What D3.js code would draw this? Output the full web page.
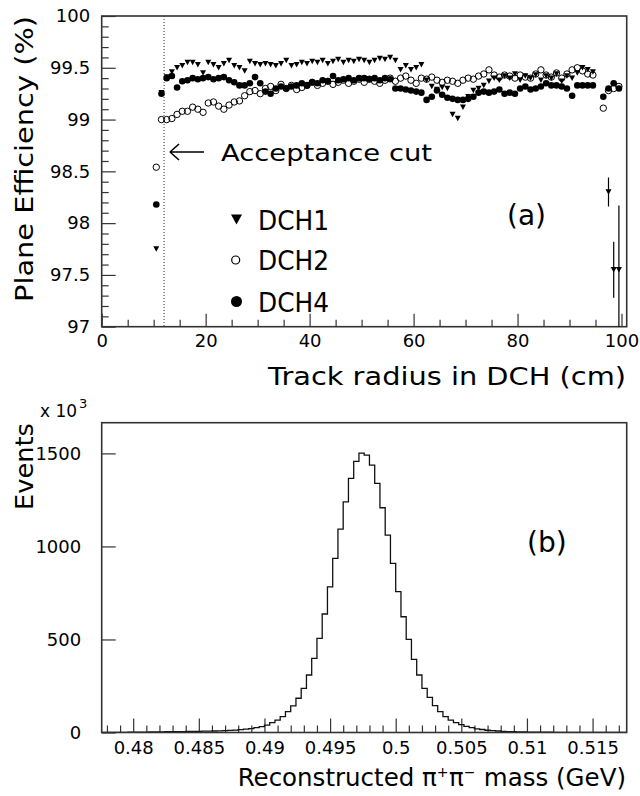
<!DOCTYPE html>
<html><head><meta charset="utf-8">
<script src="https://cdn.jsdelivr.net/npm/d3@7"></script>
<style>
body{margin:0;background:#fff}
svg{display:block}
text{font-family:"DejaVu Sans",sans-serif;fill:#000}
</style>
</head><body>
<svg id="c" width="640" height="796"></svg>
<script>
// ---------- Panel (a): plane efficiency vs track radius ----------
const radius = [10.5,11.5,12.5,13.5,14.5,15.5,16.5,17.5,18.5,19.5,
  20.5,21.5,22.5,23.5,24.5,25.5,26.5,27.5,28.5,29.5,
  30.5,31.5,32.5,33.5,34.5,35.5,36.5,37.5,38.5,39.5,
  40.5,41.5,42.5,43.5,44.5,45.5,46.5,47.5,48.5,49.5,
  50.5,51.5,52.5,53.5,54.5,55.5,56.5,57.5,58.5,59.5,
  60.5,61.5,62.5,63.5,64.5,65.5,66.5,67.5,68.5,69.5,
  70.5,71.5,72.5,73.5,74.5,75.5,76.5,77.5,78.5,79.5,
  80.5,81.5,82.5,83.5,84.5,85.5,86.5,87.5,88.5,89.5,
  90.5,91.5,92.5,93.5,94.5,95.5,96.5,97.5,98.5,99.5];
const dch1 = [97.75,99.26,99.41,99.46,99.50,99.52,99.55,99.55,99.53,99.45,
  99.55,99.53,99.50,99.54,99.57,99.52,99.50,99.47,99.56,99.54,
  99.53,99.54,99.53,99.52,99.54,99.57,99.52,99.53,99.55,99.54,
  99.56,99.55,99.57,99.54,99.56,99.58,99.55,99.57,99.56,99.58,
  99.57,99.55,99.57,99.59,99.58,99.60,99.57,99.48,99.52,99.48,
  99.50,99.53,99.38,99.32,99.29,99.31,99.30,99.05,99.01,99.12,
  99.22,99.28,99.30,99.33,99.37,99.40,99.38,99.42,99.40,99.44,
  99.38,99.42,99.40,99.43,99.38,99.42,99.40,99.44,99.37,99.42,
  99.40,99.45,99.50,99.48,99.46,null,null,98.30,97.55,97.55];
const dch1Err = [0,0,0,0,0,0,0,0,0,0, 0,0,0,0,0,0,0,0,0,0,
  0,0,0,0,0,0,0,0,0,0, 0,0,0,0,0,0,0,0,0,0,
  0,0,0,0,0,0,0,0,0,0, 0,0,0,0,0,0,0,0,0,0,
  0,0,0,0,0,0,0,0,0,0, 0,0,0,0,0,0,0,0,0,0,
  0,0,0,0,0,0,0,0.14,0.27,0.62];
const dch2 = [98.54,99.00,99.00,99.01,99.05,99.08,99.08,99.12,99.10,99.07,
  99.16,99.17,99.13,99.10,99.14,99.17,99.18,99.23,99.27,99.28,
  99.25,99.30,99.32,99.28,99.34,99.30,99.33,99.29,99.31,99.33,
  99.36,99.33,99.35,99.37,99.34,99.36,99.38,99.35,99.37,99.39,
  99.36,99.39,99.37,99.35,99.38,99.40,99.37,99.40,99.42,99.38,
  99.35,99.40,99.39,99.41,99.38,99.36,99.38,99.37,99.35,99.38,
  99.40,99.39,99.42,99.44,99.48,99.43,99.41,99.43,99.42,99.40,
  99.43,99.41,99.40,99.44,99.48,99.43,99.41,99.45,99.40,99.44,
  99.48,99.50,99.47,99.44,99.43,null,99.11,99.28,99.30,99.32];
const dch4 = [98.18,99.25,99.40,99.42,99.31,99.37,99.38,99.40,99.39,99.40,
  99.41,99.39,99.40,99.41,99.38,99.36,99.33,99.33,99.35,99.41,
  99.35,99.27,99.25,99.30,99.32,99.30,99.32,99.33,99.35,99.33,
  99.36,99.35,99.38,99.37,99.42,99.38,99.39,99.40,99.38,99.40,
  99.40,99.39,99.40,99.38,99.40,99.39,99.30,99.30,99.29,99.28,
  99.27,99.26,99.19,99.22,99.28,99.24,99.21,99.20,99.19,99.19,
  99.20,99.22,99.26,99.27,99.26,99.27,99.29,99.25,99.26,99.25,
  99.30,99.32,99.29,99.30,99.32,99.35,99.33,99.33,99.32,99.30,
  99.23,99.33,99.33,99.33,99.33,null,99.22,99.30,99.35,99.30];
const effYMajor = [97,97.5,98,98.5,99,99.5,100];
const effYLabels = ["97","97.5","98","98.5","99","99.5","100"];
const effYMinor = [97.1,97.2,97.3,97.4,97.6,97.7,97.8,97.9,98.1,98.2,98.3,98.4,98.6,98.7,98.8,98.9,99.1,99.2,99.3,99.4,99.6,99.7,99.8,99.9];
const effXMajor = [0,20,40,60,80,100];
const effXLabels = ["0","20","40","60","80","100"];
const effXMinor = [5,10,15,25,30,35,45,50,55,65,70,75,85,90,95];
const acceptanceCut = 12;
const legendNames = ["DCH1","DCH2","DCH4"];

// ---------- Panel (b): pi+pi- invariant mass ----------
const massLow = 0.4776, massBinWidth = 0.0004;
const massCounts = [1,1,1,1,1,2,2,2,2,3,
  3,3,4,4,5,5,6,6,6,7,
  7,8,9,10,11,13,15,18,21,26,
  32,40,53,67,85,112,143,184,237,309,
  398,506,637,783,936,1093,1240,1366,1457,1502,
  1491,1437,1339,1208,1061,909,757,622,501,393,
  309,237,189,144,112,85,67,53,42,33,
  26,20,16,12,10,8,6,5,4,3,
  3,2,2,2,2,2,1,1,1,1,
  1,1,1,1,1,1,1,1,1,1];
const massXMajor = [0.48,0.485,0.49,0.495,0.5,0.505,0.51,0.515];
const massXLabels = ["0.48","0.485","0.49","0.495","0.5","0.505","0.51","0.515"];
const massXMinor = [0.478,0.479,0.481,0.482,0.483,0.484,0.486,0.487,0.488,0.489,0.491,0.492,0.493,0.494,
  0.496,0.497,0.498,0.499,0.501,0.502,0.503,0.504,0.506,0.507,0.508,0.509,0.511,0.512,0.513,0.514,0.516,0.517];
const eventsYTicks = [0,500,1000,1500];
const eventsYLabels = ["0","500","1000","1500"];

const svg = d3.select("#c");
const FR = "#333";

// ===== Panel (a) =====
const xa = d3.scaleLinear().domain([0,101]).range([101.7,626.7]);
const ya = d3.scaleLinear().domain([97,100]).range([326.7,16]);
const ga = svg.append("g");
ga.append("defs").append("clipPath").attr("id","clipA")
  .append("rect").attr("x",xa(0)).attr("y",ya(100)).attr("width",xa(101)-xa(0)).attr("height",ya(97)-ya(100));

function styleAxis(g, fs){
  g.select(".domain").remove();
  g.selectAll(".tick line").attr("stroke",FR).attr("stroke-width",1.2);
  g.selectAll("text").attr("font-size",fs).attr("fill","#000").attr("font-family","DejaVu Sans");
}
ga.append("g").attr("transform",`translate(0,${ya(97)})`)
  .call(d3.axisBottom(xa).tickValues(effXMajor).tickFormat((d,i)=>effXLabels[i]).tickSizeInner(-13).tickSizeOuter(0).tickPadding(8))
  .call(g=>styleAxis(g,18));
ga.append("g").attr("transform",`translate(0,${ya(97)})`)
  .call(d3.axisBottom(xa).tickValues(effXMinor).tickFormat("").tickSizeInner(-7).tickSizeOuter(0))
  .call(g=>styleAxis(g,18));
ga.append("g").attr("transform",`translate(${xa(0)},0)`)
  .call(d3.axisLeft(ya).tickValues(effYMajor).tickFormat((d,i)=>effYLabels[i]).tickSizeInner(-14).tickSizeOuter(0).tickPadding(11.5))
  .call(g=>styleAxis(g,18));
ga.append("g").attr("transform",`translate(${xa(0)},0)`)
  .call(d3.axisLeft(ya).tickValues(effYMinor).tickFormat("").tickSizeInner(-7).tickSizeOuter(0))
  .call(g=>styleAxis(g,18));
ga.append("rect").attr("x",xa(0)).attr("y",ya(100)).attr("width",xa(101)-xa(0)).attr("height",ya(97)-ya(100))
  .attr("fill","none").attr("stroke",FR).attr("stroke-width",1.6);

ga.append("line").attr("x1",xa(acceptanceCut)).attr("x2",xa(acceptanceCut)).attr("y1",ya(100)).attr("y2",ya(97))
  .attr("stroke","#333").attr("stroke-width",1).attr("stroke-dasharray","1,2");

function triDown(cx,cy,w,h){
  return `M${cx-w/2},${cy-h/2}L${cx+w/2},${cy-h/2}L${cx},${cy+h/2}Z`;
}
const pts = radius.map((r,i)=>({r,i}));
const plot = ga.append("g").attr("clip-path","url(#clipA)");
plot.selectAll("line.err").data(pts.filter(d=>dch1[d.i]!=null && dch1Err[d.i]>0)).join("line")
  .attr("x1",d=>xa(d.r)).attr("x2",d=>xa(d.r))
  .attr("y1",d=>ya(dch1[d.i]+dch1Err[d.i])).attr("y2",d=>ya(dch1[d.i]-dch1Err[d.i]))
  .attr("stroke","#000").attr("stroke-width",1.2);
plot.selectAll("circle.d2").data(pts.filter(d=>dch2[d.i]!=null)).join("circle")
  .attr("cx",d=>xa(d.r)).attr("cy",d=>ya(dch2[d.i])).attr("r",3.2)
  .attr("fill","none").attr("stroke","#000").attr("stroke-width",1);
plot.selectAll("path.d1").data(pts.filter(d=>dch1[d.i]!=null)).join("path")
  .attr("d",d=>triDown(xa(d.r),ya(dch1[d.i]),6,5.5)).attr("fill","#000");
plot.selectAll("circle.d4").data(pts.filter(d=>dch4[d.i]!=null)).join("circle")
  .attr("cx",d=>xa(d.r)).attr("cy",d=>ya(dch4[d.i])).attr("r",3.3).attr("fill","#000");

ga.append("path").attr("d","M170,152H204M170,152L179,144M170,152L179,160")
  .attr("fill","none").attr("stroke","#000").attr("stroke-width",1.6);
ga.append("text").attr("x",221).attr("y",161).attr("font-size",23)
  .attr("textLength",211).attr("lengthAdjust","spacingAndGlyphs").text("Acceptance cut");

const legY = [219.5,260,301.5];
ga.append("path").attr("d",triDown(236.5,legY[0],11,10)).attr("fill","#000");
ga.append("circle").attr("cx",235.7).attr("cy",legY[1]).attr("r",4).attr("fill","none").attr("stroke","#000").attr("stroke-width",1.2);
ga.append("circle").attr("cx",236.5).attr("cy",legY[2]).attr("r",5.5).attr("fill","#000");
legendNames.forEach((n,i)=>{
  ga.append("text").attr("x",258).attr("y",legY[i]+10).attr("font-size",27)
    .attr("textLength",71).attr("lengthAdjust","spacingAndGlyphs").text(n);
});
ga.append("text").attr("x",507).attr("y",225).attr("font-size",28).text("(a)");

ga.append("text").attr("x",626).attr("y",385).attr("text-anchor","end").attr("font-size",24)
  .attr("textLength",358).attr("lengthAdjust","spacingAndGlyphs").text("Track radius in DCH (cm)");
ga.append("text").attr("transform","translate(33,16) rotate(-90)").attr("text-anchor","end").attr("font-size",24)
  .attr("textLength",286).attr("lengthAdjust","spacingAndGlyphs").text("Plane Efficiency (%)");

// ===== Panel (b) =====
const xb = d3.scaleLinear().domain([massLow, massLow+massBinWidth*massCounts.length]).range([101.7,626.7]);
const yb = d3.scaleLinear().domain([0,1665]).range([732.5,422.7]);
const gb = svg.append("g");

gb.append("g").attr("transform",`translate(0,${yb(0)})`)
  .call(d3.axisBottom(xb).tickValues(massXMajor).tickFormat((d,i)=>massXLabels[i]).tickSizeInner(-14).tickSizeOuter(0).tickPadding(9))
  .call(g=>styleAxis(g,18));
gb.append("g").attr("transform",`translate(0,${yb(0)})`)
  .call(d3.axisBottom(xb).tickValues(massXMinor).tickFormat("").tickSizeInner(-7).tickSizeOuter(0))
  .call(g=>styleAxis(g,18));
gb.append("g").attr("transform",`translate(${xb.range()[0]},0)`)
  .call(d3.axisLeft(yb).tickValues(eventsYTicks).tickFormat((d,i)=>eventsYLabels[i]).tickSizeInner(-14).tickSizeOuter(0).tickPadding(20.5))
  .call(g=>styleAxis(g,18));

const histPts = massCounts.map((c,i)=>[massLow+i*massBinWidth, c]);
histPts.push([massLow+massCounts.length*massBinWidth, massCounts[massCounts.length-1]]);
gb.append("path").datum(histPts)
  .attr("d",d3.line().x(d=>xb(d[0])).y(d=>yb(d[1])).curve(d3.curveStepAfter))
  .attr("fill","none").attr("stroke","#111").attr("stroke-width",1.3);

gb.append("rect").attr("x",101.7).attr("y",yb.range()[1]).attr("width",525).attr("height",yb.range()[0]-yb.range()[1])
  .attr("fill","none").attr("stroke",FR).attr("stroke-width",1.6);

gb.append("text").attr("x",527).attr("y",552).attr("font-size",28).text("(b)");
gb.append("text").attr("x",40).attr("y",417).attr("font-size",17).text("x 10");
gb.append("text").attr("x",79).attr("y",408).attr("font-size",13).text("3");
gb.append("text").attr("transform","translate(33,423) rotate(-90)").attr("text-anchor","end").attr("font-size",25)
  .attr("textLength",87).attr("lengthAdjust","spacingAndGlyphs").text("Events");

// x-axis title of panel (b): pieces laid out one after another, right edge at frame edge
const titleG = gb.append("g");
const pieces = [
  {t:"Reconstructed π", fs:24.5, dy:0},
  {t:"+", fs:14, dy:-9},
  {t:"π", fs:24.5, dy:0},
  {t:"−", fs:14, dy:-9},
  {t:" mass (GeV)", fs:24.5, dy:0}
];
let cx = 0;
pieces.forEach(p=>{
  const t = titleG.append("text").attr("x",cx).attr("y",786+p.dy).attr("font-size",p.fs)
    .attr("xml:space","preserve").style("white-space","pre").text(p.t);
  cx += t.node().getComputedTextLength() + (p.fs<20 ? 0.5 : 0);
});
titleG.attr("transform",`translate(${626-cx},0)`);
</script>
</body></html>
